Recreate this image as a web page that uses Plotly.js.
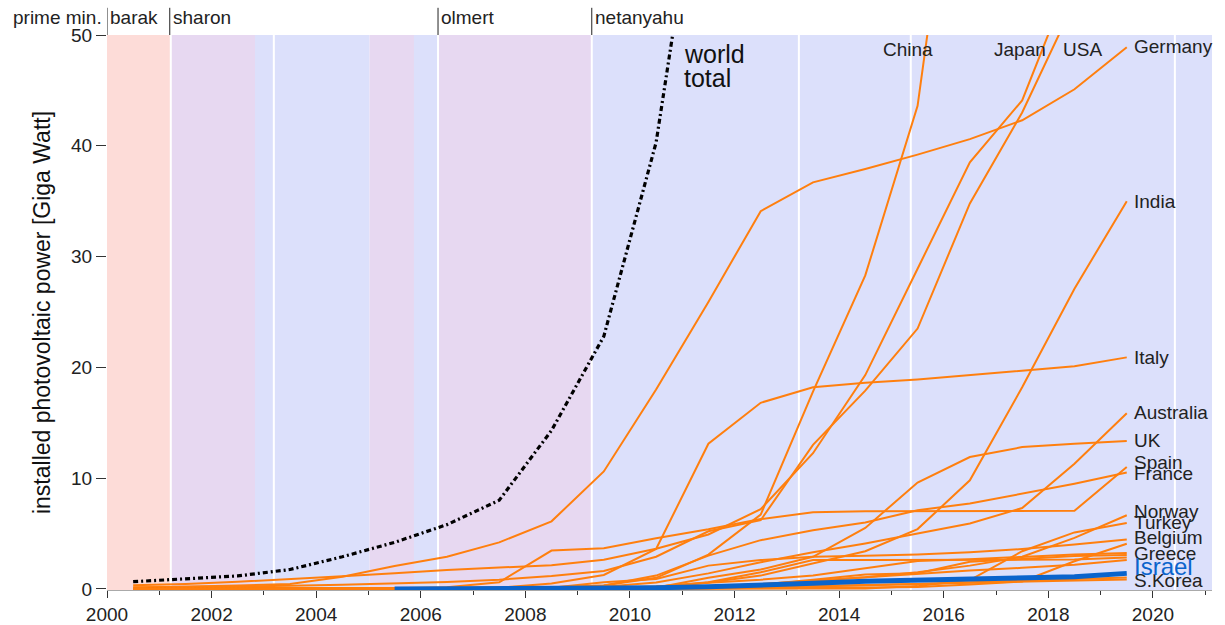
<!DOCTYPE html>
<html>
<head>
<meta charset="utf-8">
<script src="https://cdn.plot.ly/plotly-3.0.1.min.js"></script>
<style>html,body{margin:0;padding:0;background:#fff}#chart{width:1225px;height:625px}</style>
</head>
<body>
<div id="chart"></div>
<script>
// ---- data (GW, year-end values, drawn at mid-year) ----
const years = [2000,2001,2002,2003,2004,2005,2006,2007,2008,2009,2010,2011,2012,2013,2014,2015,2016,2017,2018,2019];

const worldTotal = [0.65,0.88,1.17,1.75,2.9,4.2,5.8,8.0,14.3,22.8,40.3,71];

const israel = [null,null,null,null,null,0.0,0.0,0.01,0.02,0.05,0.1,0.2,0.3,0.5,0.7,0.8,0.9,1.0,1.1,1.4];

const countryNames = ["China","Japan","USA","Germany","India","Italy","Australia","UK","Spain","France",
                      "Norway","Turkey","Belgium","Other A","Other B","Other C","Greece","Other D","Other E","S.Korea"];
const china     = [0.02,0.02,0.03,0.04,0.05,0.07,0.08,0.1,0.14,0.3,1.0,3.1,6.7,17.8,28.3,43.6,78,131,175,205];
const japan     = [0.33,0.45,0.64,0.86,1.13,1.42,1.71,1.92,2.14,2.63,3.62,4.91,7.2,12.25,19.3,28.9,38.5,44.1,56,62];
const usa       = [0.14,0.17,0.21,0.28,0.38,0.48,0.62,0.83,1.17,1.62,2.9,5.2,6.2,13.0,17.9,23.5,34.8,43.0,53,62];
const germany   = [0.11,0.18,0.30,0.44,1.1,2.06,2.9,4.2,6.1,10.6,18.0,25.9,34.1,36.7,37.9,39.2,40.6,42.3,45.1,48.9];
const india     = [0,0,0,0,0,0,0,0,0,0.01,0.07,0.57,1.2,2.3,3.4,5.4,9.8,18.2,27.1,35.0];
const italy     = [0.02,0.02,0.02,0.03,0.03,0.04,0.05,0.12,0.48,1.26,3.6,13.1,16.8,18.2,18.6,18.9,19.3,19.7,20.1,20.9];
const australia = [0.03,0.03,0.04,0.05,0.05,0.06,0.07,0.08,0.1,0.19,0.57,1.4,2.4,3.3,4.1,5.0,5.9,7.3,11.3,15.85];
const uk        = [0,0,0,0,0.01,0.01,0.01,0.02,0.02,0.03,0.1,1.0,1.75,2.9,5.5,9.6,11.9,12.8,13.1,13.35];
const spain     = [0.01,0.01,0.02,0.03,0.04,0.05,0.15,0.6,3.46,3.66,4.57,5.38,6.3,6.92,7.0,7.0,7.0,7.0,7.05,11.0];
const france    = [0.01,0.01,0.01,0.01,0.01,0.01,0.02,0.05,0.1,0.3,1.2,3.0,4.4,5.3,6.0,7.1,7.7,8.6,9.5,10.5];
const norway    = [0.01,0.02,0.03,0.04,0.05,0.05,0.05,0.05,0.06,0.07,0.09,0.15,0.37,0.74,1.05,1.5,2.1,2.9,4.6,6.65];
const turkey    = [0,0,0,0,0,0,0,0,0,0,0,0,0,0.01,0.04,0.25,0.8,3.4,5.1,5.95];
const belgium   = [0,0,0,0,0,0,0,0.02,0.1,0.6,0.9,2.1,2.6,2.9,3.0,3.1,3.3,3.6,4.0,4.45];
const otherA    = [0,0,0,0,0,0,0,0.01,0.02,0.03,0.03,0.05,0.06,0.08,0.12,0.17,0.39,0.67,2.5,4.07];
const otherB    = [0.01,0.01,0.01,0.01,0.01,0.02,0.02,0.03,0.03,0.09,0.22,0.56,0.83,1.21,1.84,2.52,2.67,2.91,3.1,3.25];
const otherC    = [0,0,0,0,0,0,0,0.01,0.02,0.02,0.03,0.2,0.38,0.82,1.3,1.42,2.45,2.7,2.96,3.07];
const greece    = [0,0,0,0,0,0,0,0,0.01,0.05,0.2,0.6,1.5,2.6,2.6,2.6,2.6,2.6,2.65,2.83];
const otherD    = [0.02,0.02,0.02,0.02,0.02,0.03,0.03,0.03,0.05,0.07,0.13,0.22,0.44,0.76,1.06,1.39,1.66,1.9,2.17,2.6];
const otherE    = [0,0,0,0,0,0,0,0,0,0,0.01,0.03,0.1,0.2,0.3,0.45,0.6,0.75,0.9,1.03];
const skorea    = [0,0,0,0,0,0,0,0,0.01,0.02,0.04,0.08,0.15,0.25,0.35,0.45,0.55,0.65,0.75,0.85];
const countrySeries = [china,japan,usa,germany,india,italy,australia,uk,spain,france,
                       norway,turkey,belgium,otherA,otherB,otherC,greece,otherD,otherE,skorea];

// right-hand labels (text and the height at which each label sits)
const endLabels  = ["Germany","India","Italy","Australia","UK","Spain","France","Norway","Turkey","Belgium","Greece","S.Korea"];
const endLabelY  = [49.0,35.0,20.9,15.9,13.4,11.4,10.4,7.0,6.0,4.6,3.2,0.8];
const topLabels  = ["China","Japan","USA"];
const topLabelX  = [2015.31,2017.45,2018.66];

// Israeli prime ministers and government periods
const pmNames  = ["barak","sharon","olmert","netanyahu"];
const pmStart  = [2000.0,2001.2,2006.33,2009.27];
const govStart = [2000.0,2001.22,2002.83,2005.02,2005.87,2006.33,2009.27];
const govEnd   = [2001.22,2002.83,2005.02,2005.87,2006.33,2009.27,2021.2];
const govKind  = ["left","unity","right","unity","right","unity","right"];
const govChanges = [2001.22,2003.19,2006.33,2009.27,2013.23,2015.37,2020.42];

// ---- build ----
const mid = years.map(y => y + 0.5);
const ORANGE = "#ff7f0e";
const kindColor = {left:"#fddcd8", unity:"#e7d8f1", right:"#dce0fb"};

const traces = [];
countrySeries.forEach((s,i) => {
  traces.push({x: mid, y: s, type:"scatter", mode:"lines", name: countryNames[i],
    line:{color:ORANGE, width:2}, hoverinfo:"name+y", showlegend:false});
});
traces.push({x: mid.slice(0, worldTotal.length), y: worldTotal, type:"scatter", mode:"lines",
  name:"world total", line:{color:"#000", width:3.2, dash:"5px,3px,2px,3px"}, showlegend:false});
traces.push({x: mid, y: israel, type:"scatter", mode:"lines", name:"Israel",
  line:{color:"#0a64cc", width:5}, showlegend:false});

const shapes = [];
govStart.forEach((s,i) => {
  shapes.push({type:"rect", xref:"x", yref:"paper", x0:s, x1:govEnd[i], y0:0, y1:1,
    fillcolor: kindColor[govKind[i]], line:{width:0}, layer:"below"});
});
govChanges.forEach(g => {
  shapes.push({type:"line", xref:"x", yref:"paper", x0:g, x1:g, y0:0, y1:1,
    line:{color:"#ffffff", width:2}, layer:"below"});
});
pmStart.forEach(p => {
  shapes.push({type:"line", xref:"x", yref:"paper", x0:p, x1:p, y0:1, y1:1.049,
    line:{color:"#222", width:1}});
});

const FONT = "Liberation Sans, Arial, sans-serif";
const annotations = [];
annotations.push({xref:"paper", yref:"paper", x:0, y:1.031, xanchor:"right", yanchor:"middle",
  xshift:-3, text:"prime min.", showarrow:false, font:{family:FONT, size:19, color:"#222"}});
pmNames.forEach((n,i) => {
  annotations.push({xref:"x", yref:"paper", x:pmStart[i], y:1.031, xanchor:"left", yanchor:"middle",
    xshift:1, text:n, showarrow:false, font:{family:FONT, size:19, color:"#222"}});
});
endLabels.forEach((t,i) => {
  annotations.push({xref:"x", yref:"y", x:2019.6, y:endLabelY[i], xanchor:"left", yanchor:"middle",
    text:t, showarrow:false, font:{family:FONT, size:19, color:"#222"}});
});
annotations.push({xref:"x", yref:"y", x:2019.6, y:2.0, xanchor:"left", yanchor:"middle",
  text:"Israel", showarrow:false, font:{family:FONT, size:24, color:"#0a64cc"}});
topLabels.forEach((t,i) => {
  annotations.push({xref:"x", yref:"paper", x:topLabelX[i], y:0.973, xanchor:"center", yanchor:"middle",
    text:t, showarrow:false, font:{family:FONT, size:19, color:"#222"}});
});
annotations.push({xref:"x", yref:"paper", x:2011.0, y:0.966, xanchor:"left", yanchor:"middle",
  text:"world", showarrow:false, font:{family:FONT, size:25, color:"#111"}});
annotations.push({xref:"x", yref:"paper", x:2011.0, y:0.923, xanchor:"left", yanchor:"middle",
  text:"total", showarrow:false, font:{family:FONT, size:25, color:"#111"}});

const layout = {
  width:1225, height:625,
  margin:{l:107, r:13, t:35, b:35, pad:0},
  paper_bgcolor:"#fff", plot_bgcolor:"#fff",
  font:{family:FONT, size:19, color:"#222"},
  showlegend:false,
  xaxis:{range:[2000, 2021.13], tickmode:"array", tickvals:[2000,2002,2004,2006,2008,2010,2012,2014,2016,2018,2020],
    ticks:"outside", ticklen:7, tickcolor:"#333", showgrid:false, zeroline:false,
    showline:true, linecolor:"#aaa", linewidth:1,
    minor:{dtick:1, tick0:2000, ticks:"outside", ticklen:4, tickcolor:"#333", showgrid:false},
    tickfont:{size:19, color:"#222"}},
  yaxis:{range:[-0.1, 50], tickmode:"array", tickvals:[0,10,20,30,40,50],
    ticks:"outside", ticklen:10, tickcolor:"#333", showgrid:false, zeroline:false, showline:false,
    tickfont:{size:19, color:"#222"},
    title:{text:"installed photovoltaic power [Giga Watt]", font:{size:23, color:"#111"}, standoff:14}},
  shapes: shapes,
  annotations: annotations
};

Plotly.newPlot("chart", traces, layout, {displayModeBar:false, staticPlot:true});
</script>
</body>
</html>
